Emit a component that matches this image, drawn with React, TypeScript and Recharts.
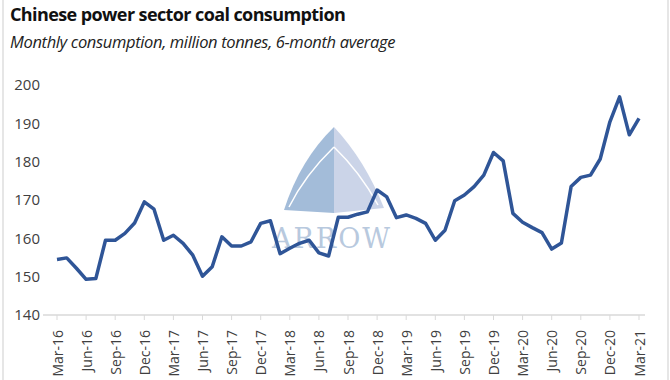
import React from 'react';
import { LineChart, Line, XAxis, YAxis } from 'recharts';

if (typeof document !== 'undefined') document.body.style.margin = '0';

// monthly labels, Mar-16 .. Mar-21
const months = [
  'Mar-16', 'Apr-16', 'May-16', 'Jun-16', 'Jul-16', 'Aug-16', 'Sep-16', 'Oct-16', 'Nov-16', 'Dec-16',
  'Jan-17', 'Feb-17', 'Mar-17', 'Apr-17', 'May-17', 'Jun-17', 'Jul-17', 'Aug-17', 'Sep-17', 'Oct-17', 'Nov-17', 'Dec-17',
  'Jan-18', 'Feb-18', 'Mar-18', 'Apr-18', 'May-18', 'Jun-18', 'Jul-18', 'Aug-18', 'Sep-18', 'Oct-18', 'Nov-18', 'Dec-18',
  'Jan-19', 'Feb-19', 'Mar-19', 'Apr-19', 'May-19', 'Jun-19', 'Jul-19', 'Aug-19', 'Sep-19', 'Oct-19', 'Nov-19', 'Dec-19',
  'Jan-20', 'Feb-20', 'Mar-20', 'Apr-20', 'May-20', 'Jun-20', 'Jul-20', 'Aug-20', 'Sep-20', 'Oct-20', 'Nov-20', 'Dec-20',
  'Jan-21', 'Feb-21', 'Mar-21',
];

// million tonnes, 6-month average
const consumption = [
  154.5, 154.9, 152.2, 149.3, 149.5, 159.5, 159.5, 161.3, 164.0, 169.5,
  167.6, 159.5, 160.8, 158.7, 155.6, 150.1, 152.6, 160.4, 158.0, 158.0, 159.1, 163.9,
  164.6, 156.0, 157.4, 158.7, 159.5, 156.2, 155.4, 165.5, 165.5, 166.3, 166.9, 172.6,
  170.8, 165.4, 166.1, 165.2, 163.9, 159.5, 162.1, 169.8, 171.3, 173.5, 176.5, 182.4,
  180.2, 166.5, 164.2, 162.8, 161.5, 157.2, 158.8, 173.5, 175.9, 176.5, 180.7, 190.4,
  196.9, 187.0, 191.3,
];

const xTicks = months.filter((_, i) => i % 3 === 0);
const yTicks = [140, 150, 160, 170, 180, 190, 200];

const data = months.map((m, i) => ({ month: m, value: consumption[i] }));

const MonthTick = ({ x, y, payload }: any) => (
  <text
    x={x}
    y={y + 8}
    transform={`rotate(-90, ${x}, ${y + 8})`}
    textAnchor="end"
    dominantBaseline="central"
    fontSize={14}
    fill="#404040"
    fontFamily="'Open Sans', sans-serif"
  >
    {payload.value}
  </text>
);

// faint watermark behind the plot
const Watermark = () => (
  <svg width={670} height={380} style={{ position: 'absolute', left: 0, top: 0 }}>
    <path d="M334,127 Q300,160 284,210 L334,213 Z" fill="#a3bcd9" />
    <path d="M334,127 Q365,160 384,208 L334,213 Z" fill="#cbd4e8" />
    <path d="M334,147 Q305,175 289,207" stroke="#fff" strokeWidth={1.5} fill="none" />
    <path d="M334,147 Q360,172 378,205" stroke="#fff" strokeWidth={1.5} fill="none" />
    <text x={332} y={248} textAnchor="middle" fontSize={27} fontFamily="'DejaVu Serif', 'Liberation Serif', serif"
      fill="#b8c9de" letterSpacing={2}>ARROW</text>
  </svg>
);

export default function App() {
  return (
    <div style={{ position: 'relative', width: 670, height: 380, background: '#fff', overflow: 'hidden' }}>
      <div style={{ position: 'absolute', left: 2, top: 0, width: 663, height: 380,
        borderLeft: '2px solid #e6e6e6', borderRight: '2px solid #e6e6e6' }} />
      <div style={{ position: 'absolute', left: 10, top: 2, fontFamily: "'Open Sans', sans-serif",
        fontWeight: 700, fontSize: 18, color: '#111', whiteSpace: 'nowrap', letterSpacing: -0.6 }}>
        Chinese power sector coal consumption
      </div>
      <div style={{ position: 'absolute', left: 10, top: 30, fontFamily: "'Open Sans', sans-serif",
        fontStyle: 'italic', fontSize: 16.5, color: '#222', whiteSpace: 'nowrap', letterSpacing: -0.35 }}>
        Monthly consumption, million tonnes, 6-month average
      </div>
      <Watermark />
      <div style={{ position: 'absolute', left: 0, top: 0 }}>
        <LineChart width={670} height={380} data={data} margin={{ top: 85, right: 25, bottom: 0, left: 0 }}>
          <XAxis
            dataKey="month"
            ticks={xTicks}
            interval={0}
            tick={<MonthTick />}
            tickLine={{ stroke: '#d9d9d9' }}
            tickSize={5}
            axisLine={{ stroke: '#d9d9d9', strokeWidth: 1.5 }}
            padding={{ left: 14, right: 6 }}
            height={65}
          />
          <YAxis
            domain={[140, 200]}
            ticks={yTicks}
            width={43}
            axisLine={false}
            tickLine={false}
            tickSize={2}
            tickMargin={1}
            tick={{ fontSize: 15, fill: '#404040', fontFamily: "'Open Sans', sans-serif" }}
          />
          <Line
            type="linear"
            dataKey="value"
            stroke="#2f5597"
            strokeWidth={3.5}
            dot={false}
            strokeLinejoin="round"
            isAnimationActive={false}
          />
        </LineChart>
      </div>
    </div>
  );
}
